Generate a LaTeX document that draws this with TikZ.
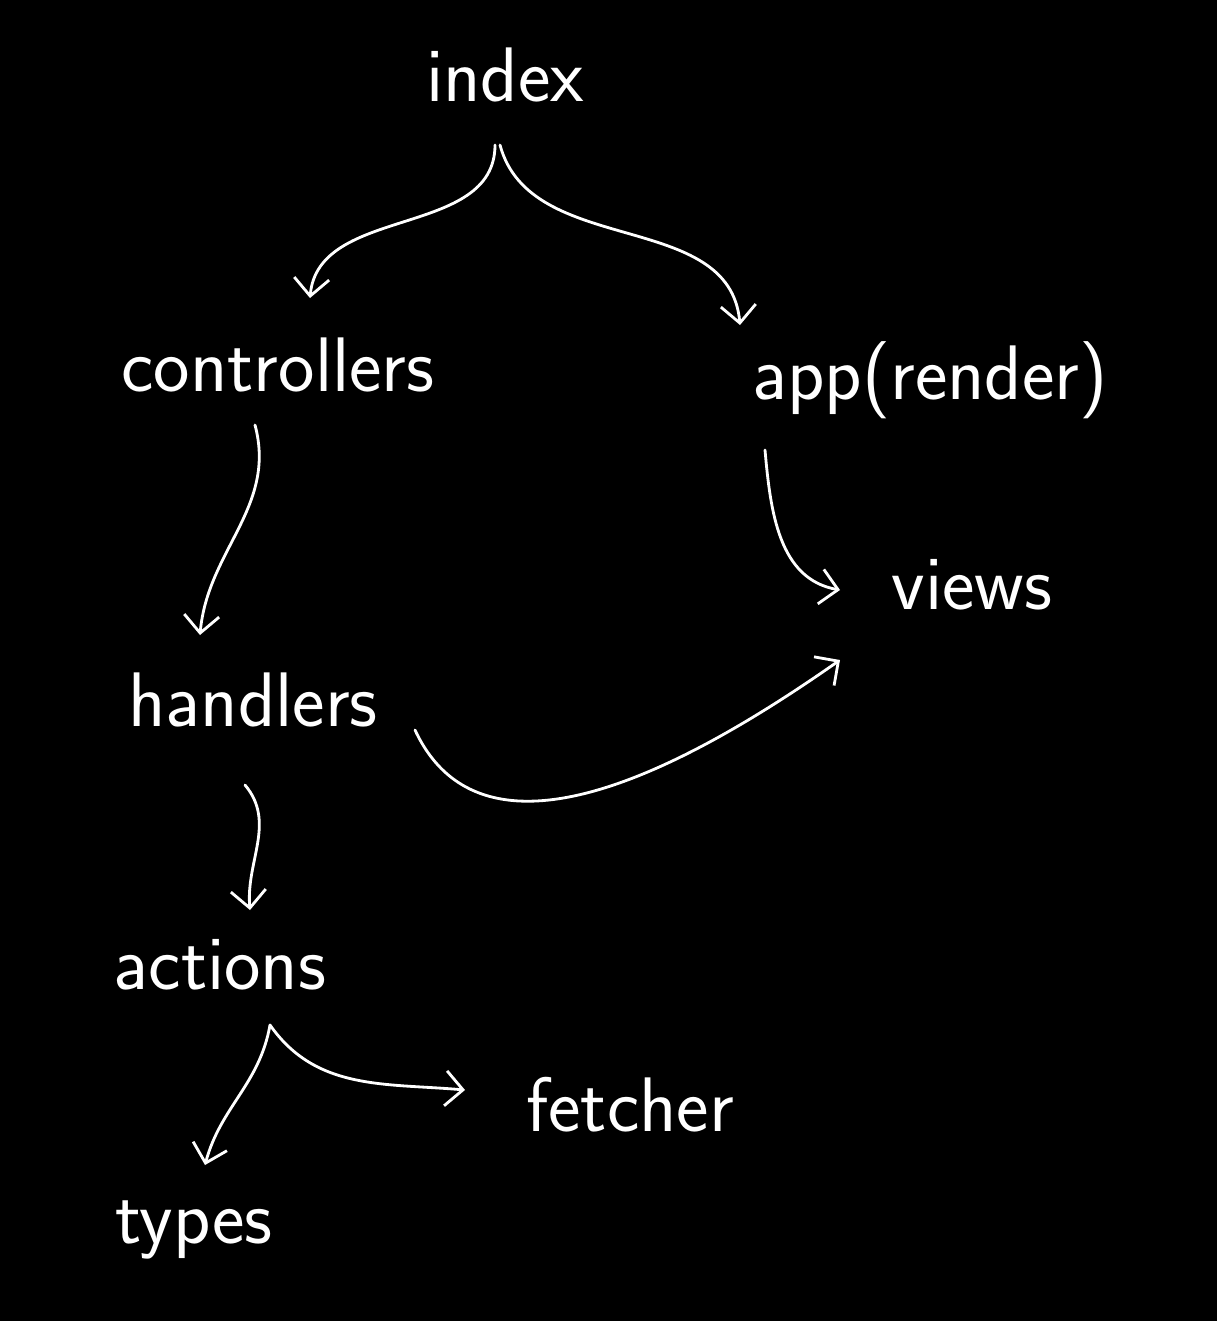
\documentclass[tikz,border=0pt]{standalone}
\usetikzlibrary{arrows.meta}
\tikzset{
  lbl/.style={text=white,font=\fontsize{44}{52}\selectfont\sffamily},
  flow/.style={draw=white,line width=1.6pt,line cap=round,-{Straight Barb[length=3.5mm,width=7mm]}}
}
\begin{document}
\begin{tikzpicture}
          \fill[black] (0,0) rectangle (24.34,-26.42);
          \useasboundingbox (0,0) rectangle (24.34,-26.42);
          % modules
          \node[lbl] (index) at (10.1,-1.5) {index};
          \node[lbl] (ctrl) at (5.56,-7.3) {controllers};
          \node[lbl] (app) at (18.6,-7.6) {app(render)};
          \node[lbl] (views) at (19.44,-11.7) {views};
          \node[lbl] (hdl) at (5.06,-14.0) {handlers};
          \node[lbl] (act) at (4.4,-19.3) {actions};
          \node[lbl] (fetch) at (12.6,-22.1) {fetcher};
          \node[lbl] (types) at (3.88,-24.6) {types};
          % imports
          \draw[flow] ([shift={(-0.2,-1.4)}]index.center) to[out=-90,in=85] ([shift={(0.64,1.34)}]ctrl.center);
          \draw[flow] ([shift={(-0.1,-1.4)}]index.center) to[out=-75,in=95] ([shift={(-3.8,1.1)}]app.center);
          \draw[flow] ([shift={(-0.46,-1.2)}]ctrl.center) to[out=-75,in=85] ([shift={(-1.06,1.3)}]hdl.center);
          \draw[flow] ([shift={(-3.3,-1.4)}]app.center) to[out=-85,in=170] ([shift={(-2.64,-0.1)}]views.center);
          \draw[flow] ([shift={(3.24,-0.6)}]hdl.center) to[out=-65,in=-145] ([shift={(-2.64,-1.5)}]views.center);
          \draw[flow] ([shift={(-0.16,-1.7)}]hdl.center) to[out=-50,in=95] ([shift={(0.6,1.1)}]act.center);
          \draw[flow] ([shift={(1.0,-1.2)}]act.center) to[out=-100,in=75] ([shift={(0.22,1.3)}]types.center);
          \draw[flow] ([shift={(1.0,-1.2)}]act.center) to[out=-55,in=175] ([shift={(-3.3,0.3)}]fetch.center);
        \end{tikzpicture}
\end{document}
